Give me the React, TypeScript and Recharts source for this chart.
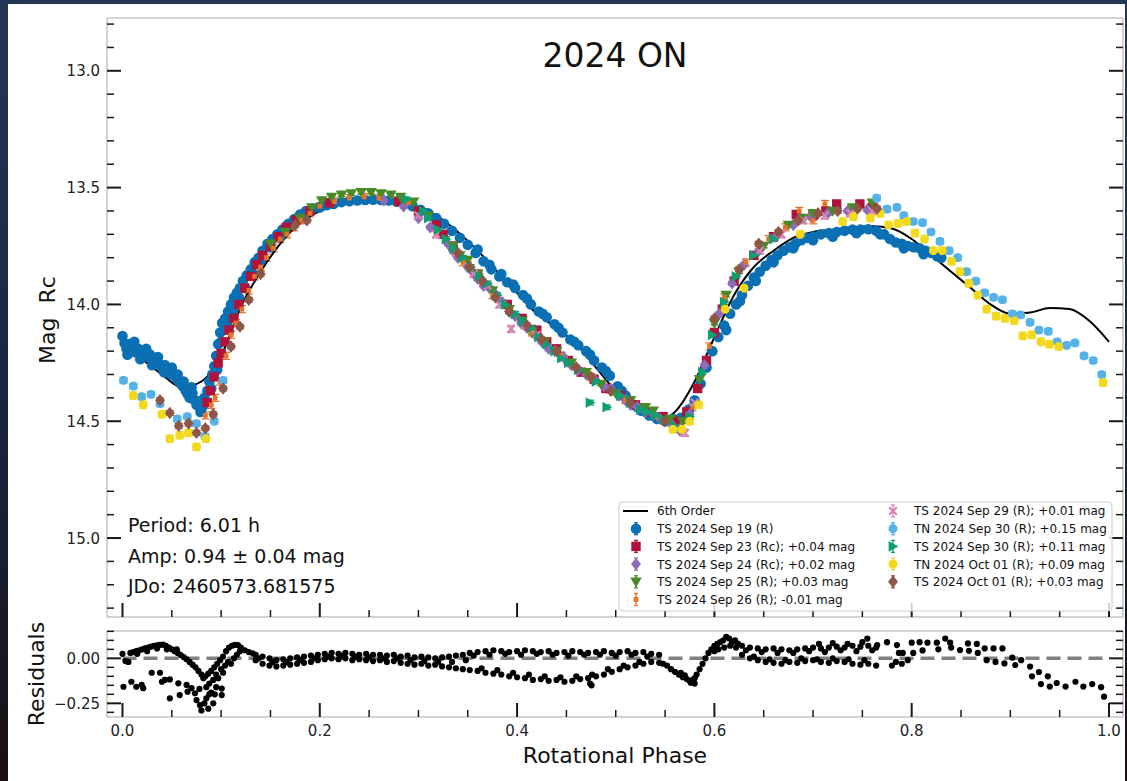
import { ComposedChart, Scatter, Line, XAxis, YAxis, ErrorBar, ReferenceLine } from 'recharts';

// 6th order fit
const FIT_6TH: [number, number][] = [
  [0.0, 14.16], [0.02, 14.235], [0.04, 14.3], [0.06, 14.355], [0.08, 14.33], [0.1, 14.22],
  [0.12, 14.01], [0.14, 13.86], [0.16, 13.74], [0.18, 13.65], [0.2, 13.6], [0.22, 13.57],
  [0.24, 13.555], [0.26, 13.55], [0.28, 13.555], [0.3, 13.585], [0.32, 13.625], [0.34, 13.69],
  [0.36, 13.77], [0.38, 13.86], [0.4, 13.95], [0.42, 14.04], [0.44, 14.1], [0.46, 14.17],
  [0.48, 14.27], [0.5, 14.37], [0.52, 14.44], [0.54, 14.48], [0.55, 14.487], [0.56, 14.46],
  [0.58, 14.33], [0.6, 14.14], [0.62, 13.96], [0.64, 13.84], [0.66, 13.77], [0.68, 13.715],
  [0.7, 13.69], [0.72, 13.68], [0.74, 13.67], [0.76, 13.665], [0.78, 13.675], [0.8, 13.72],
  [0.82, 13.79], [0.84, 13.86], [0.86, 13.93], [0.88, 14.0], [0.9, 14.04], [0.92, 14.035],
  [0.94, 14.015], [0.96, 14.02], [0.98, 14.07], [1.0, 14.16],
];

const TS_SEP19: [number, number][] = [
  [0.0, 14.135], [0.002, 14.165], [0.004, 14.19], [0.007, 14.17], [0.01, 14.18], [0.013, 14.205],
  [0.016, 14.19], [0.019, 14.215], [0.022, 14.2], [0.025, 14.225], [0.028, 14.215], [0.031, 14.24],
  [0.034, 14.23], [0.037, 14.255], [0.04, 14.27], [0.043, 14.26], [0.046, 14.285], [0.049, 14.3],
  [0.052, 14.295], [0.055, 14.32], [0.058, 14.335], [0.061, 14.35], [0.064, 14.37], [0.066, 14.385],
  [0.068, 14.4], [0.071, 14.38], [0.073, 14.41], [0.075, 14.43], [0.077, 14.415], [0.079, 14.46],
  [0.081, 14.44], [0.083, 14.4], [0.086, 14.37], [0.088, 14.33], [0.091, 14.3], [0.093, 14.265],
  [0.095, 14.22], [0.097, 14.17], [0.099, 14.12], [0.101, 14.08], [0.104, 14.06], [0.107, 14.03],
  [0.11, 14.0], [0.113, 13.97], [0.116, 13.95], [0.119, 13.93], [0.122, 13.9], [0.126, 13.875],
  [0.13, 13.85], [0.134, 13.82], [0.138, 13.8], [0.142, 13.77], [0.147, 13.74], [0.152, 13.72],
  [0.157, 13.7], [0.162, 13.68], [0.168, 13.655], [0.174, 13.635], [0.18, 13.615], [0.186, 13.6],
  [0.193, 13.59], [0.2, 13.585], [0.207, 13.575], [0.214, 13.57], [0.222, 13.562], [0.23, 13.558],
  [0.238, 13.555], [0.246, 13.553], [0.254, 13.552], [0.262, 13.553], [0.27, 13.555], [0.278, 13.56],
  [0.286, 13.57], [0.294, 13.58], [0.302, 13.595], [0.31, 13.61], [0.318, 13.63], [0.326, 13.655],
  [0.334, 13.685], [0.342, 13.715], [0.35, 13.745], [0.358, 13.78], [0.366, 13.815], [0.374, 13.85],
  [0.382, 13.88], [0.39, 13.905], [0.398, 13.93], [0.406, 13.96], [0.414, 14.0], [0.422, 14.03],
  [0.43, 14.055], [0.438, 14.085], [0.446, 14.12], [0.454, 14.15], [0.462, 14.175], [0.47, 14.2],
  [0.478, 14.24], [0.486, 14.27], [0.494, 14.305], [0.502, 14.35], [0.51, 14.39], [0.518, 14.43],
  [0.526, 14.455], [0.534, 14.475], [0.542, 14.49], [0.55, 14.5], [0.558, 14.49], [0.566, 14.485],
  [0.574, 14.45], [0.58, 14.41], [0.586, 14.34], [0.592, 14.27], [0.598, 14.2], [0.604, 14.14],
  [0.61, 14.09], [0.616, 14.04], [0.622, 14.0], [0.628, 13.96], [0.634, 13.92], [0.64, 13.885],
  [0.646, 13.86], [0.652, 13.835], [0.658, 13.81], [0.664, 13.79], [0.67, 13.77], [0.676, 13.755],
  [0.682, 13.74], [0.688, 13.725], [0.694, 13.715], [0.7, 13.71], [0.708, 13.7], [0.716, 13.695],
  [0.724, 13.69], [0.732, 13.685], [0.74, 13.68], [0.748, 13.68], [0.756, 13.678], [0.764, 13.685],
  [0.772, 13.7], [0.778, 13.72], [0.784, 13.735], [0.79, 13.74], [0.796, 13.75], [0.802, 13.755],
  [0.808, 13.76], [0.814, 13.77], [0.82, 13.78], [0.826, 13.795], [0.83, 13.8],
  [0.005, 14.215], [0.012, 14.16], [0.018, 14.235], [0.024, 14.19], [0.03, 14.26], [0.036, 14.225],
  [0.042, 14.29], [0.05, 14.27], [0.056, 14.3], [0.062, 14.33], [0.07, 14.355], [0.09, 14.36],
  [0.096, 14.28], [0.1, 14.16], [0.106, 14.09], [0.112, 14.03], [0.118, 13.97], [0.124, 13.93],
  [0.132, 13.87], [0.14, 13.815], [0.15, 13.755], [0.16, 13.71], [0.172, 13.66], [0.184, 13.625],
  [0.36, 13.765], [0.372, 13.83], [0.384, 13.87], [0.396, 13.915], [0.41, 13.975], [0.426, 14.04],
  [0.442, 14.1], [0.458, 14.16], [0.474, 14.215], [0.49, 14.285], [0.506, 14.37], [0.522, 14.44],
  [0.612, 14.11], [0.626, 13.985], [0.642, 13.9], [0.66, 13.82], [0.68, 13.76], [0.7, 13.725],
  [0.72, 13.71], [0.744, 13.695], [0.768, 13.7], [0.792, 13.76], [0.812, 13.785],
];

const TS_SEP23: [number, number][] = [
  [0.086, 14.42], [0.089, 14.37], [0.093, 14.31], [0.097, 14.25], [0.1, 14.21], [0.104, 14.16],
  [0.108, 14.11], [0.113, 14.06], [0.118, 14.0], [0.124, 13.93], [0.13, 13.88], [0.136, 13.83],
  [0.142, 13.79], [0.15, 13.75], [0.158, 13.71], [0.166, 13.67], [0.176, 13.64], [0.19, 13.6],
  [0.21, 13.565], [0.28, 13.56], [0.3, 13.6], [0.318, 13.66], [0.325, 13.7], [0.335, 13.75],
  [0.36, 13.87], [0.39, 14.0], [0.405, 14.06], [0.42, 14.11],
  [0.43, 14.16], [0.44, 14.19], [0.452, 14.24], [0.465, 14.29], [0.478, 14.32], [0.49, 14.36],
  [0.505, 14.39], [0.52, 14.43], [0.535, 14.46], [0.548, 14.48], [0.56, 14.5], [0.572, 14.46],
  [0.583, 14.36], [0.592, 14.24], [0.6, 14.12], [0.608, 14.02], [0.62, 13.9], [0.64, 13.79],
  [0.66, 13.71], [0.683, 13.615], [0.7, 13.62], [0.713, 13.6], [0.724, 13.57], [0.7475, 13.57],
  [0.76, 13.585],
];

const TS_SEP24: [number, number][] = [
  [0.265, 13.555], [0.285, 13.58], [0.3, 13.63], [0.312, 13.67], [0.33, 13.74], [0.34, 13.8],
  [0.35, 13.84], [0.36, 13.89], [0.372, 13.93], [0.385, 13.99], [0.398, 14.05], [0.41, 14.1],
  [0.425, 14.16], [0.438, 14.2], [0.455, 14.26], [0.47, 14.3], [0.488, 14.35], [0.503, 14.39],
  [0.515, 14.43], [0.53, 14.46], [0.545, 14.49], [0.556, 14.51], [0.565, 14.54], [0.575, 14.47],
  [0.59, 14.26], [0.605, 14.04], [0.618, 13.91], [0.63, 13.83], [0.645, 13.77], [0.662, 13.71],
  [0.68, 13.66], [0.698, 13.625], [0.715, 13.61], [0.735, 13.6], [0.755, 13.595],
  [0.335, 13.77], [0.355, 13.86], [0.366, 13.92], [0.378, 13.955], [0.392, 14.03], [0.404, 14.08],
  [0.418, 14.13], [0.432, 14.19], [0.447, 14.225], [0.462, 14.28], [0.478, 14.32], [0.495, 14.36],
  [0.51, 14.41], [0.522, 14.44], [0.538, 14.47],
];

const TS_SEP25: [number, number][] = [
  [0.15, 13.74], [0.165, 13.69], [0.18, 13.63], [0.192, 13.585], [0.202, 13.555], [0.212, 13.54],
  [0.222, 13.53], [0.232, 13.525], [0.242, 13.52], [0.252, 13.52], [0.262, 13.525], [0.272, 13.53],
  [0.282, 13.54], [0.295, 13.56], [0.31, 13.62], [0.335, 13.75], [0.35, 13.81], [0.392, 14.02],
  [0.405, 14.07], [0.44, 14.2], [0.47, 14.29], [0.5, 14.38], [0.53, 14.44], [0.538, 14.455],
  [0.555, 14.49], [0.568, 14.5], [0.585, 14.32], [0.6, 14.08], [0.612, 13.96], [0.625, 13.86],
  [0.65, 13.75], [0.69, 13.63], [0.72, 13.6], [0.76, 13.565],
  [0.342, 13.79], [0.36, 13.87], [0.375, 13.94], [0.415, 14.12], [0.428, 14.16], [0.455, 14.25],
  [0.485, 14.34], [0.515, 14.41], [0.675, 13.66], [0.7, 13.61], [0.74, 13.585],
];

const TS_SEP26: [number, number][] = [
  [0.084, 14.475], [0.09, 14.43], [0.094, 14.4], [0.099, 14.33], [0.105, 14.22], [0.11, 14.13],
  [0.115, 14.08], [0.121, 14.02], [0.128, 13.94], [0.134, 13.88], [0.14, 13.84], [0.146, 13.8],
  [0.153, 13.76], [0.16, 13.72], [0.167, 13.7], [0.174, 13.67], [0.182, 13.64], [0.19, 13.61],
  [0.2, 13.58], [0.215, 13.56], [0.23, 13.545], [0.245, 13.54], [0.26, 13.545], [0.29, 13.565],
  [0.345, 13.82], [0.375, 13.96], [0.415, 14.12], [0.445, 14.22], [0.475, 14.31], [0.51, 14.41],
  [0.54, 14.48], [0.565, 14.53], [0.578, 14.44], [0.595, 14.18], [0.61, 13.97], [0.632, 13.82],
  [0.655, 13.72], [0.672, 13.67], [0.686, 13.6], [0.7, 13.64], [0.712, 13.57],
];

const TS_SEP29: [number, number][] = [
  [0.3, 13.62], [0.318, 13.7], [0.338, 13.78], [0.356, 13.87], [0.37, 13.92], [0.382, 14.0],
  [0.394, 14.105], [0.408, 14.09], [0.42, 14.13], [0.562, 14.53], [0.57, 14.55], [0.58, 14.42],
  [0.646, 13.77], [0.668, 13.7], [0.69, 13.64], [0.712, 13.62], [0.738, 13.61], [0.76, 13.6],
];

const TN_SEP30: [number, number][] = [
  [0.001, 14.325], [0.011, 14.35], [0.0195, 14.395], [0.029, 14.385], [0.038, 14.425], [0.0556, 14.49],
  [0.0657, 14.48], [0.075, 14.51], [0.0836, 14.565], [0.093, 14.5], [0.102, 14.325], [0.7645, 13.545],
  [0.775, 13.592], [0.785, 13.585], [0.792, 13.62], [0.8016, 13.645], [0.811, 13.65], [0.8196, 13.69],
  [0.8287, 13.73], [0.838, 13.77], [0.8466, 13.8], [0.8557, 13.86], [0.865, 13.9], [0.874, 13.95],
  [0.883, 13.97], [0.892, 13.98], [0.902, 14.04], [0.9105, 14.045], [0.92, 14.077], [0.929, 14.11],
  [0.9385, 14.115], [0.9475, 14.16], [0.957, 14.175], [0.9655, 14.165], [0.9747, 14.22], [0.984, 14.24],
  [0.9926, 14.3],
];

const TS_SEP30: [number, number][] = [
  [0.288, 13.55], [0.31, 13.63], [0.328, 13.72], [0.345, 13.8], [0.362, 13.88], [0.38, 13.96],
  [0.398, 14.04], [0.415, 14.1], [0.43, 14.17], [0.445, 14.23], [0.462, 14.28], [0.474, 14.42],
  [0.48, 14.33], [0.491, 14.44], [0.498, 14.37], [0.515, 14.42], [0.532, 14.46], [0.548, 14.49],
  [0.56, 14.52], [0.575, 14.48], [0.588, 14.29], [0.598, 14.13], [0.61, 13.99], [0.622, 13.88],
  [0.64, 13.79], [0.66, 13.72],
  [0.305, 13.6], [0.32, 13.68], [0.336, 13.76], [0.353, 13.84], [0.37, 13.91], [0.388, 14.0],
  [0.406, 14.07], [0.422, 14.14], [0.438, 14.2], [0.452, 14.25], [0.505, 14.39], [0.525, 14.45],
  [0.54, 14.475],
];

const TN_OCT01: [number, number][] = [
  [0.011, 14.39], [0.021, 14.43], [0.04, 14.47], [0.048, 14.575], [0.058, 14.56], [0.0667, 14.55],
  [0.075, 14.61], [0.0846, 14.575], [0.558, 14.535], [0.567, 14.535], [0.575, 14.5], [0.584, 14.43],
  [0.611, 14.02], [0.63, 13.93], [0.687, 13.7], [0.73, 13.645], [0.741, 13.625], [0.758, 13.63],
  [0.768, 13.61], [0.7765, 13.66], [0.786, 13.653], [0.7946, 13.645], [0.8034, 13.695], [0.813, 13.72],
  [0.822, 13.77], [0.831, 13.77], [0.8405, 13.815], [0.849, 13.86], [0.858, 13.91], [0.867, 13.96],
  [0.876, 14.02], [0.8856, 14.05], [0.8946, 14.06], [0.904, 14.07], [0.9125, 14.135], [0.9216, 14.13],
  [0.931, 14.16], [0.9395, 14.17], [0.949, 14.18], [0.994, 14.335],
];

const TS_OCT01: [number, number][] = [
  [0.038, 14.41], [0.048, 14.465], [0.057, 14.52], [0.067, 14.51], [0.075, 14.55], [0.084, 14.53],
  [0.092, 14.47], [0.102, 14.36], [0.11, 14.18], [0.119, 14.095], [0.128, 13.98], [0.14, 13.87],
  [0.175, 13.66], [0.187, 13.64], [0.34, 13.78], [0.365, 13.9], [0.392, 14.03], [0.425, 14.15],
  [0.46, 14.27], [0.495, 14.37], [0.665, 13.69], [0.685, 13.64], [0.705, 13.61], [0.725, 13.6],
  [0.745, 13.59], [0.765, 13.59],
  [0.352, 13.84], [0.378, 13.97], [0.41, 14.09], [0.44, 14.2], [0.475, 14.31], [0.515, 14.42],
  [0.55, 14.5], [0.6, 14.06], [0.625, 13.85], [0.645, 13.74],
];

// residuals (data - fit)
const RESIDUALS: [number, number][] = [
  [0.0, 0.025], [0.003, -0.015], [0.006, -0.02], [0.008, 0.03], [0.011, 0.035], [0.014, 0.04],
  [0.017, 0.045], [0.02, 0.05], [0.023, 0.055], [0.026, 0.06], [0.029, 0.065], [0.032, 0.07],
  [0.035, 0.072], [0.038, 0.075], [0.041, 0.076], [0.044, 0.07], [0.047, 0.06], [0.05, 0.05],
  [0.053, 0.04], [0.056, 0.03], [0.059, 0.018], [0.062, 0.007], [0.065, -0.005], [0.068, -0.02],
  [0.071, -0.035], [0.074, -0.05], [0.077, -0.07], [0.08, -0.09], [0.082, -0.11], [0.084, -0.1],
  [0.087, -0.085], [0.09, -0.07], [0.093, -0.05], [0.096, -0.03], [0.099, -0.01], [0.102, 0.01],
  [0.105, 0.04], [0.108, 0.06], [0.111, 0.07], [0.114, 0.075], [0.117, 0.074], [0.12, 0.06],
  [0.124, 0.045], [0.128, 0.035], [0.132, 0.028], [0.015, 0.025], [0.025, 0.04], [0.035, 0.055],
  [0.045, 0.05], [0.055, 0.05],
  [0.085, -0.16], [0.088, -0.14], [0.09, -0.19], [0.092, -0.12], [0.095, -0.09], [0.097, -0.11],
  [0.1, -0.06], [0.102, -0.08], [0.104, -0.04], [0.107, -0.02], [0.11, -0.03], [0.113, 0.0],
  [0.116, 0.02], [0.119, 0.04],
  [0.001, -0.158], [0.009, -0.13], [0.014, -0.158], [0.0195, -0.148], [0.021, -0.166], [0.0296, -0.08],
  [0.038, -0.08], [0.04, -0.13], [0.043, -0.12], [0.048, -0.117], [0.048, -0.222], [0.0566, -0.139],
  [0.058, -0.204], [0.065, -0.148], [0.066, -0.185], [0.0735, -0.194], [0.075, -0.232], [0.0786, -0.26],
  [0.08, -0.29], [0.083, -0.25], [0.085, -0.222], [0.087, -0.28], [0.092, -0.25], [0.0935, -0.2],
  [0.1006, -0.204], [0.1006, -0.168], [0.078, -0.17], [0.07, -0.165], [0.088, -0.2], [0.095, -0.16],
  [0.135, 0.02], [0.135, -0.01], [0.142, 0.01], [0.142, -0.03], [0.149, 0.0], [0.149, -0.04],
  [0.156, -0.01], [0.156, -0.045], [0.163, -0.005], [0.163, -0.04], [0.17, 0.0], [0.17, -0.035],
  [0.177, 0.005], [0.177, -0.03], [0.184, 0.01], [0.184, -0.025], [0.191, 0.015], [0.191, -0.02],
  [0.198, 0.02], [0.198, -0.01], [0.205, 0.025], [0.205, -0.005], [0.212, 0.03], [0.212, 0.0],
  [0.219, 0.025], [0.219, -0.005], [0.226, 0.03], [0.226, 0.0], [0.233, 0.025], [0.233, -0.01],
  [0.24, 0.02], [0.24, -0.005], [0.247, 0.025], [0.247, -0.01], [0.254, 0.02], [0.254, -0.015],
  [0.261, 0.02], [0.261, -0.01], [0.268, 0.015], [0.268, -0.02], [0.275, 0.02], [0.275, -0.015],
  [0.282, 0.01], [0.282, -0.025], [0.289, 0.015], [0.289, -0.03], [0.296, 0.005], [0.296, -0.035],
  [0.303, 0.01], [0.303, -0.03], [0.31, 0.005], [0.31, -0.04], [0.317, 0.0], [0.317, -0.035],
  [0.324, 0.005], [0.324, -0.045], [0.331, 0.01], [0.331, -0.05], [0.338, 0.015], [0.338, -0.055],
  [0.345, 0.02], [0.345, -0.06],
  [0.138, 0.0], [0.152, -0.02], [0.166, -0.02], [0.18, -0.01], [0.194, 0.0], [0.208, 0.01],
  [0.222, 0.015], [0.236, 0.01], [0.25, 0.005], [0.264, 0.0], [0.278, 0.0], [0.292, -0.01],
  [0.306, -0.015], [0.32, -0.02], [0.334, -0.02], [0.348, -0.01],
  [0.352, 0.03], [0.36, 0.035], [0.368, 0.04], [0.376, 0.045], [0.384, 0.04], [0.392, 0.035],
  [0.4, 0.04], [0.408, 0.045], [0.416, 0.04], [0.424, 0.035], [0.432, 0.04], [0.44, 0.03],
  [0.448, 0.035], [0.456, 0.04], [0.464, 0.035], [0.472, 0.03], [0.48, 0.035], [0.488, 0.04],
  [0.496, 0.03], [0.504, 0.035], [0.512, 0.04], [0.52, 0.03], [0.528, 0.035], [0.536, 0.025],
  [0.544, 0.02], [0.356, 0.015], [0.372, 0.02], [0.388, 0.025], [0.404, 0.02], [0.42, 0.025],
  [0.436, 0.02], [0.452, 0.015], [0.468, 0.02], [0.484, 0.02], [0.5, 0.015], [0.516, 0.02],
  [0.532, 0.01],
  [0.352, -0.065], [0.36, -0.07], [0.368, -0.08], [0.376, -0.085], [0.384, -0.09], [0.392, -0.1],
  [0.4, -0.105], [0.408, -0.11], [0.416, -0.12], [0.424, -0.115], [0.432, -0.125], [0.44, -0.12],
  [0.448, -0.13], [0.456, -0.125], [0.464, -0.115], [0.472, -0.11], [0.48, -0.1], [0.488, -0.09],
  [0.496, -0.075], [0.504, -0.06], [0.512, -0.05], [0.52, -0.04], [0.528, -0.03], [0.536, -0.02],
  [0.544, -0.025], [0.364, -0.055], [0.38, -0.065], [0.396, -0.08], [0.412, -0.09], [0.428, -0.1],
  [0.444, -0.105], [0.46, -0.1], [0.476, -0.09], [0.492, -0.06], [0.508, -0.04], [0.524, -0.02],
  [0.474, -0.14], [0.4755, -0.15],
  [0.548, -0.03], [0.552, -0.04], [0.556, -0.06], [0.56, -0.075], [0.564, -0.09], [0.568, -0.105],
  [0.572, -0.115], [0.575, -0.125], [0.578, -0.12], [0.58, -0.11], [0.582, -0.09], [0.585, -0.06],
  [0.588, -0.03], [0.591, 0.0], [0.594, 0.03], [0.597, 0.05], [0.6, 0.07], [0.576, -0.135],
  [0.58, -0.14], [0.566, -0.08], [0.57, -0.095],
  [0.603, 0.08], [0.606, 0.09], [0.609, 0.1], [0.612, 0.12], [0.615, 0.11], [0.618, 0.09],
  [0.621, 0.1], [0.624, 0.08], [0.604, 0.05], [0.61, 0.06], [0.616, 0.07], [0.622, 0.06], [0.6, 0.04],
  [0.628, 0.07], [0.636, 0.06], [0.644, 0.055], [0.652, 0.05], [0.66, 0.055], [0.668, 0.05],
  [0.676, 0.045], [0.684, 0.05], [0.692, 0.055], [0.7, 0.06], [0.708, 0.055], [0.716, 0.06],
  [0.724, 0.065], [0.732, 0.06], [0.74, 0.07], [0.748, 0.065], [0.756, 0.07], [0.764, 0.06],
  [0.632, 0.045], [0.648, 0.035], [0.664, 0.03], [0.68, 0.03], [0.696, 0.04], [0.712, 0.035],
  [0.728, 0.045], [0.744, 0.04], [0.76, 0.045], [0.706, 0.08], [0.72, 0.085], [0.735, 0.08],
  [0.75, 0.09], [0.755, 0.11],
  [0.628, 0.02], [0.636, 0.0], [0.644, -0.01], [0.652, -0.02], [0.66, -0.025], [0.668, -0.03],
  [0.676, -0.02], [0.684, -0.025], [0.692, -0.015], [0.7, -0.01], [0.708, -0.02], [0.716, -0.025],
  [0.724, -0.015], [0.732, -0.02], [0.74, -0.03], [0.748, -0.035], [0.756, -0.03], [0.764, -0.04],
  [0.64, 0.01], [0.656, -0.005], [0.672, -0.01], [0.688, 0.0], [0.704, -0.005], [0.72, 0.0],
  [0.736, -0.005], [0.752, -0.01],
  [0.765, 0.074], [0.775, 0.09], [0.785, 0.074], [0.787, 0.03], [0.791, 0.03], [0.78, -0.04],
  [0.784, -0.02], [0.79, -0.03], [0.796, -0.01], [0.8, 0.087], [0.8016, 0.03], [0.808, 0.09],
  [0.811, 0.044], [0.816, 0.087], [0.8255, 0.087], [0.827, 0.05], [0.834, 0.11],
  [0.839, 0.087], [0.84, 0.06], [0.849, 0.046], [0.857, 0.083], [0.858, 0.042], [0.866, 0.08],
  [0.867, 0.03], [0.874, 0.055], [0.876, -0.01], [0.883, 0.055], [0.885, -0.02], [0.892, 0.055],
  [0.894, -0.028], [0.902, 0.004], [0.905, -0.037], [0.911, -0.01], [0.92, -0.046], [0.922, -0.1],
  [0.929, -0.076], [0.931, -0.143], [0.938, -0.1], [0.94, -0.157], [0.947, -0.137], [0.956, -0.157],
  [0.966, -0.13], [0.974, -0.157], [0.983, -0.143], [0.992, -0.16], [0.995, -0.213],
];

// axes
const PHASE_DOMAIN: [number, number] = [-0.0157, 1.0142];
const MAG_DOMAIN: [number, number] = [12.774, 15.338];
const RES_DOMAIN: [number, number] = [-0.326, 0.152];
const PHASE_TICKS = [0, 0.05, 0.1, 0.15, 0.2, 0.25, 0.3, 0.35, 0.4, 0.45, 0.5, 0.55, 0.6, 0.65, 0.7, 0.75, 0.8, 0.85, 0.9, 0.95, 1.0];
const PHASE_LABELS = [0, 0.2, 0.4, 0.6, 0.8, 1.0];
const MAG_TICKS = [12.8, 12.9, 13.0, 13.1, 13.2, 13.3, 13.4, 13.5, 13.6, 13.7, 13.8, 13.9, 14.0, 14.1, 14.2, 14.3, 14.4, 14.5, 14.6, 14.7, 14.8, 14.9, 15.0, 15.1, 15.2, 15.3];
const MAG_LABELS = [13.0, 13.5, 14.0, 14.5, 15.0];
const RES_TICKS = [0.15, 0.1, 0.05, 0, -0.05, -0.1, -0.15, -0.2, -0.25, -0.3];
const RES_LABELS = [0, -0.25];

const SERIES = [
  { name: 'TS 2024 Sep 19 (R)', pts: TS_SEP19, color: '#0b6fb3', kind: 'circle', err: 0.005 },
  { name: 'TS 2024 Sep 23 (Rc); +0.04 mag', pts: TS_SEP23, color: '#b0123a', kind: 'square', err: 0.01 },
  { name: 'TS 2024 Sep 24 (Rc); +0.02 mag', pts: TS_SEP24, color: '#8c6bb8', kind: 'diamond', err: 0.008 },
  { name: 'TS 2024 Sep 25 (R); +0.03 mag', pts: TS_SEP25, color: '#4a8a26', kind: 'tridown', err: 0.008 },
  { name: 'TS 2024 Sep 26 (R); -0.01 mag', pts: TS_SEP26, color: '#e5742a', kind: 'small', err: 0.015 },
  { name: 'TS 2024 Sep 29 (R); +0.01 mag', pts: TS_SEP29, color: '#d984b0', kind: 'x', err: 0.015 },
  { name: 'TN 2024 Sep 30 (R); +0.15 mag', pts: TN_SEP30, color: '#56b1e6', kind: 'oct', err: 0.012 },
  { name: 'TS 2024 Sep 30 (R); +0.11 mag', pts: TS_SEP30, color: '#0d9e72', kind: 'triright', err: 0.01 },
  { name: 'TN 2024 Oct 01 (R); +0.09 mag', pts: TN_OCT01, color: '#f2d91c', kind: 'oct', err: 0.015 },
  { name: 'TS 2024 Oct 01 (R); +0.03 mag', pts: TS_OCT01, color: '#8e5646', kind: 'diamond', err: 0.01 },
];

const FONT = 'DejaVu Sans';

function Marker({ kind, cx, cy, color }: { kind: string; cx: number; cy: number; color: string }) {
  switch (kind) {
    case 'circle':
      return <circle cx={cx} cy={cy} r={5.3} fill={color} />;
    case 'square':
      return <rect x={cx - 4.7} y={cy - 4.7} width={9.4} height={9.4} fill={color} />;
    case 'diamond':
      return <path d={`M${cx},${cy - 6.2}L${cx + 5},${cy}L${cx},${cy + 6.2}L${cx - 5},${cy}Z`} fill={color} />;
    case 'tridown':
      return <path d={`M${cx - 5.8},${cy - 4.2}L${cx + 5.8},${cy - 4.2}L${cx},${cy + 5.8}Z`} fill={color} />;
    case 'small':
      return <rect x={cx - 2.4} y={cy - 2.4} width={4.8} height={4.8} fill={color} />;
    case 'x':
      return (
        <path
          d={`M${cx - 3.8},${cy - 3.8}L${cx + 3.8},${cy + 3.8}M${cx - 3.8},${cy + 3.8}L${cx + 3.8},${cy - 3.8}`}
          stroke={color}
          strokeWidth={2.2}
        />
      );
    case 'triright':
      return <path d={`M${cx - 4.4},${cy - 5.4}L${cx + 5.4},${cy}L${cx - 4.4},${cy + 5.4}Z`} fill={color} />;
    default: {
      // octagon
      const r = 4.7;
      const pts = [0, 1, 2, 3, 4, 5, 6, 7]
        .map((i) => {
          const a = (Math.PI / 4) * i + Math.PI / 8;
          return `${cx + r * Math.cos(a)},${cy + r * Math.sin(a)}`;
        })
        .join(' ');
      return <polygon points={pts} fill={color} />;
    }
  }
}

// inward ticks, matplotlib style
function InTick(props: any) {
  const { x, y, payload, side, labels, fmt } = props;
  const v = payload.value as number;
  const major = labels.some((m: number) => Math.abs(m - v) < 1e-6);
  const len = major ? 14 : 7;
  let x2 = x;
  let y2 = y;
  if (side === 'left') x2 = x + len;
  else if (side === 'right') x2 = x - len;
  else if (side === 'top') y2 = y + len;
  else y2 = y - len;
  return (
    <g>
      <line x1={x} y1={y} x2={x2} y2={y2} stroke="#1a1a1a" strokeWidth={major ? 2 : 1.5} />
      {major && fmt && side === 'left' && (
        <text x={x - 7} y={y + 5.5} textAnchor="end" fontSize={15} fontFamily={FONT} fill="#222">
          {fmt(v)}
        </text>
      )}
      {major && fmt && side === 'bottom' && (
        <text x={x} y={y + 18.5} textAnchor="middle" fontSize={15} fontFamily={FONT} fill="#222">
          {fmt(v)}
        </text>
      )}
    </g>
  );
}

const axisLine = { stroke: '#c4c4c4', strokeWidth: 1.5 };
const fmt1 = (v: number) => v.toFixed(1);
const fmtRes = (v: number) => (v < 0 ? '\u2212' : '') + Math.abs(v).toFixed(2);

function axisCommon(ticks: number[]) {
  return {
    type: 'number' as const,
    allowDataOverflow: true,
    ticks,
    interval: 0 as const,
    tickSize: 0,
    tickMargin: 0,
    tickLine: false,
    axisLine,
  };
}

export default function App() {
  const fit = FIT_6TH.map(([phase, mag]) => ({ phase, mag }));
  const resid = RESIDUALS.map(([phase, res]) => ({ phase, res }));

  const legendRows1 = SERIES.slice(0, 5);
  const legendRows2 = SERIES.slice(5);
  const rowY = [511, 528.7, 546.4, 564.1, 581.8, 599.5];

  return (
    <div
      style={{
        position: 'absolute',
        left: 0,
        top: 0,
        width: 1127,
        height: 781,
        overflow: 'hidden',
        background: 'linear-gradient(180deg, #243657 0%, #18233a 60%, #1a0f12 100%)',
      }}
    >
      <div style={{ position: 'absolute', left: 8, top: 4, width: 1117, height: 777, background: '#ffffff' }} />

      <div style={{ position: 'absolute', left: 0, top: 0 }}>
        <ComposedChart width={1127} height={625} margin={{ top: 0, right: 0, bottom: 0, left: 0 }}>
          <XAxis xAxisId="b" dataKey="phase" orientation="bottom" height={8} domain={PHASE_DOMAIN}
            {...axisCommon(PHASE_TICKS)} tick={(p: any) => <InTick {...p} side="bottom" labels={PHASE_LABELS} />} />
          <XAxis xAxisId="t" orientation="top" height={18} domain={PHASE_DOMAIN}
            {...axisCommon(PHASE_TICKS)} tick={(p: any) => <InTick {...p} side="top" labels={PHASE_LABELS} />} />
          <YAxis yAxisId="l" dataKey="mag" orientation="left" width={107} domain={MAG_DOMAIN} reversed
            {...axisCommon(MAG_TICKS)} tick={(p: any) => <InTick {...p} side="left" labels={MAG_LABELS} fmt={fmt1} />} />
          <YAxis yAxisId="r" orientation="right" width={4} domain={MAG_DOMAIN} reversed
            {...axisCommon(MAG_TICKS)} tick={(p: any) => <InTick {...p} side="right" labels={MAG_LABELS} />} />

          {SERIES.map((s) => (
            <Scatter
              key={s.name}
              name={s.name}
              xAxisId="b"
              yAxisId="l"
              data={s.pts.map(([phase, mag]) => ({ phase, mag, err: s.err }))}
              isAnimationActive={false}
              shape={(p: any) => <Marker kind={s.kind} cx={p.cx} cy={p.cy} color={s.color} />}
            >
              <ErrorBar dataKey="err" direction="y" width={4} stroke={s.color} strokeWidth={1.3} />
            </Scatter>
          ))}

          <Line
            xAxisId="b"
            yAxisId="l"
            data={fit}
            dataKey="mag"
            type="monotone"
            stroke="#000000"
            strokeWidth={2}
            dot={false}
            activeDot={false}
            isAnimationActive={false}
          />
        </ComposedChart>
      </div>

      <div style={{ position: 'absolute', left: 0, top: 625 }}>
        <ComposedChart width={1127} height={156} margin={{ top: 0, right: 0, bottom: 0, left: 0 }}>
          <XAxis xAxisId="b" dataKey="phase" orientation="bottom" height={64} domain={PHASE_DOMAIN}
            {...axisCommon(PHASE_TICKS)} tick={(p: any) => <InTick {...p} side="bottom" labels={PHASE_LABELS} fmt={fmt1} />} />
          <XAxis xAxisId="t" orientation="top" height={6} domain={PHASE_DOMAIN}
            {...axisCommon(PHASE_TICKS)} tick={(p: any) => <InTick {...p} side="top" labels={PHASE_LABELS} />} />
          <YAxis yAxisId="l" dataKey="res" orientation="left" width={107} domain={RES_DOMAIN}
            {...axisCommon(RES_TICKS)} tick={(p: any) => <InTick {...p} side="left" labels={RES_LABELS} fmt={fmtRes} />} />
          <YAxis yAxisId="r" orientation="right" width={4} domain={RES_DOMAIN}
            {...axisCommon(RES_TICKS)} tick={(p: any) => <InTick {...p} side="right" labels={RES_LABELS} />} />

          <ReferenceLine
            xAxisId="b"
            yAxisId="l"
            segment={[{ x: 0, y: 0 }, { x: 1, y: 0 }]}
            stroke="#808080"
            strokeWidth={3.5}
            strokeDasharray="14 7"
          />
          <Scatter
            xAxisId="b"
            yAxisId="l"
            data={resid}
            isAnimationActive={false}
            shape={(p: any) => <circle cx={p.cx} cy={p.cy} r={3.1} fill="#000" />}
          />
        </ComposedChart>
      </div>

      <svg width={1127} height={781} style={{ position: 'absolute', left: 0, top: 0, pointerEvents: 'none' }}>
        <g fontFamily={FONT} fill="#111">
          <text x={615} y={67} textAnchor="middle" fontSize={33}>2024 ON</text>
          <text x={128} y={532} fontSize={19}>Period: 6.01 h</text>
          <text x={128} y={563} fontSize={19}>Amp: 0.94 ± 0.04 mag</text>
          <text x={128} y={593} fontSize={19}>JDo: 2460573.681575</text>
          <text x={55} y={320} fontSize={22} textAnchor="middle" transform="rotate(-90 55 320)" style={{ whiteSpace: 'pre' }}>
            {'Mag  Rc'}
          </text>
          <text x={44} y={674} fontSize={22} textAnchor="middle" transform="rotate(-90 44 674)">Residuals</text>
          <text x={615} y={763} fontSize={22} textAnchor="middle">Rotational Phase</text>
        </g>

        <rect x={619} y={502} width={493} height={109} rx={4} fill="#ffffff" fillOpacity={0.8} stroke="#cccccc" strokeWidth={1} />
        <g fontFamily={FONT} fontSize={12} fill="#111">
          <line x1={623} y1={rowY[0]} x2={648} y2={rowY[0]} stroke="#000" strokeWidth={2} />
          <text x={657} y={rowY[0] + 4.4}>6th Order</text>
          {legendRows1.map((s, i) => (
            <g key={s.name}>
              <line x1={636} y1={rowY[i + 1] - 6} x2={636} y2={rowY[i + 1] + 6} stroke={s.color} strokeWidth={1.3} />
              <line x1={634} y1={rowY[i + 1] - 6} x2={638} y2={rowY[i + 1] - 6} stroke={s.color} strokeWidth={1.3} />
              <line x1={634} y1={rowY[i + 1] + 6} x2={638} y2={rowY[i + 1] + 6} stroke={s.color} strokeWidth={1.3} />
              <Marker kind={s.kind} cx={636} cy={rowY[i + 1]} color={s.color} />
              <text x={657} y={rowY[i + 1] + 4.4}>{s.name}</text>
            </g>
          ))}
          {legendRows2.map((s, i) => (
            <g key={s.name}>
              <line x1={893} y1={rowY[i] - 6} x2={893} y2={rowY[i] + 6} stroke={s.color} strokeWidth={1.3} />
              <line x1={891} y1={rowY[i] - 6} x2={895} y2={rowY[i] - 6} stroke={s.color} strokeWidth={1.3} />
              <line x1={891} y1={rowY[i] + 6} x2={895} y2={rowY[i] + 6} stroke={s.color} strokeWidth={1.3} />
              <Marker kind={s.kind} cx={893} cy={rowY[i]} color={s.color} />
              <text x={914} y={rowY[i] + 4.4}>{s.name}</text>
            </g>
          ))}
        </g>
      </svg>
    </div>
  );
}
